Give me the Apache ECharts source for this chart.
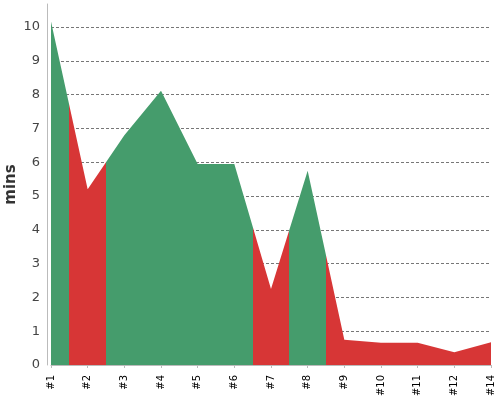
<!DOCTYPE html>
<html><head><meta charset="utf-8">
<script src="https://cdn.jsdelivr.net/npm/echarts@6/dist/echarts.min.js"></script>
<style>html,body{margin:0;padding:0;background:#fff}#c{width:500px;height:400px}</style>
</head><body><div id="c"></div>
<script>
var categories = ['#1','#2','#3','#4','#5','#6','#7','#8','#9','#10','#11','#12','#14'];
var values = [10.16, 5.2, 6.8, 8.11, 5.95, 5.95, 2.25, 5.75, 0.75, 0.66, 0.66, 0.38, 0.67];
var outcomes = ['good','bad','good','good','good','good','bad','good','bad','bad','bad','bad','bad'];
var yTicks = [0,1,2,3,4,5,6,7,8,9,10];

var GREEN = '#459c6c', RED = '#d73636';
var n = outcomes.length;
var stops = [];
for (var i = 0; i < n; i++) {
  var col = outcomes[i] === 'good' ? GREEN : RED;
  var a = i === 0 ? 0 : (i - 0.5) / (n - 1);
  var b = i === n - 1 ? 1 : (i + 0.5) / (n - 1);
  stops.push({offset: a, color: col});
  stops.push({offset: b, color: col});
}
var grad = new echarts.graphic.LinearGradient(0, 0, 1, 0, stops);

var chart = echarts.init(document.getElementById('c'), null, {renderer: 'canvas'});
chart.setOption({
  animation: false,
  grid: {left: 51, right: 9, top: 4, bottom: 35, containLabel: false, outerBoundsMode: 'none'},
  xAxis: {
    type: 'category', data: categories, boundaryGap: false, offset: 4,
    axisLine: {lineStyle: {color: '#bbb'}},
    axisTick: {show: true, length: 3, lineStyle: {color: '#bbb'}},
    axisLabel: {rotate: 90, color: '#000', fontSize: 10, margin: 6, fontFamily: 'DejaVu Sans', interval: 0}
  },
  yAxis: {
    type: 'value', min: 0, max: 10.68, interval: 1, offset: 4,
    name: 'mins', nameLocation: 'middle', nameGap: 28, nameRotate: 90, nameMoveOverlap: false,
    nameTextStyle: {fontSize: 15, fontWeight: 'bold', color: '#333', fontFamily: 'DejaVu Sans'},
    axisLine: {show: true, lineStyle: {color: '#bbb'}},
    axisTick: {show: false},
    axisLabel: {color: '#444', fontSize: 13, margin: 7, fontFamily: 'DejaVu Sans', showMaxLabel: false,
      formatter: function (v) { return yTicks.indexOf(v) >= 0 ? String(v) : ''; }},
    splitLine: {show: true, showMaxLine: false, showMinLine: false, lineStyle: {color: '#777', type: [3, 2], width: 1}}
  },
  series: [{
    type: 'line', data: values, showSymbol: false, symbol: 'none',
    lineStyle: {width: 0},
    areaStyle: {opacity: 1, color: grad}
  }]
});
</script></body></html>
